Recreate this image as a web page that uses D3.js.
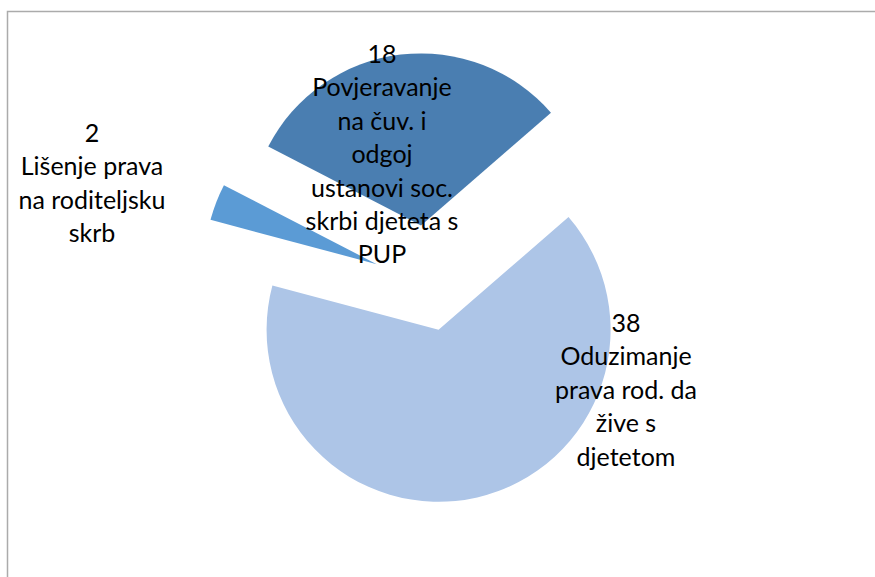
<!DOCTYPE html>
<html>
<head>
<meta charset="utf-8">
<script src="https://cdn.jsdelivr.net/npm/d3@7"></script>
<style>
    html, body { margin: 0; padding: 0; background: #fff; overflow: hidden; }
</style>
</head>
<body>
<div id="chart"></div>
<script>
// ---- data ----
const categories = [
    "Oduzimanje\nprava rod. da\nžive s\ndjetetom",
    "Lišenje prava\nna roditeljsku\nskrb",
    "Povjeravanje\nna čuv. i\nodgoj\nustanovi soc.\nskrbi djeteta s\nPUP"
];
const values = [38, 2, 18];

// ---- styling / layout ----
const colors = ["#adc5e7", "#5b9bd5", "#4a7eb1"];
const explode = [47, 55, 59];            // px each slice is pulled out
const labelPos = [[626, 332], [92, 142], [382, 63]];  // centre x, first baseline
const width = 875, height = 577;
const cx = 428, cy = 284, radius = 172;
const startDeg = 49.07;
const lineH = 33.4;

const svg = d3.select('#chart').append('svg')
    .attr('width', width)
    .attr('height', height)
    .attr('viewBox', `0 0 ${width} ${height}`);

// chart border (runs off the right and bottom edges)
svg.append('rect')
    .attr('x', 7.5).attr('y', 11.5)
    .attr('width', 900).attr('height', 600)
    .attr('fill', 'none')
    .attr('stroke', '#ababab')
    .attr('stroke-width', 1.5);

const data = values.map((v, i) => ({ name: categories[i], value: v }));

const start = startDeg * Math.PI / 180;
const pie = d3.pie().value(d => d.value).sort(null)
    .startAngle(start).endAngle(start + 2 * Math.PI);
const arc = d3.arc().innerRadius(0).outerRadius(radius);

svg.selectAll('path.slice')
    .data(pie(data))
    .join('path')
    .attr('class', 'slice')
    .attr('d', arc)
    .attr('fill', (d, i) => colors[i])
    .attr('transform', (d, i) => {
        const mid = (d.startAngle + d.endAngle) / 2;
        const dx = explode[i] * Math.sin(mid), dy = -explode[i] * Math.cos(mid);
        return `translate(${cx + dx},${cy + dy})`;
    });

// Labels
const labels = svg.selectAll('text.lbl')
    .data(data)
    .join('text')
    .attr('class', 'lbl')
    .attr('x', (d, i) => labelPos[i][0])
    .attr('y', (d, i) => labelPos[i][1])
    .style('text-anchor', 'middle')
    .style('font-family', 'Lato, "Open Sans", sans-serif')
    .style('font-size', '25px')
    .style('fill', '#000');

labels.each(function(d, i) {
    const lines = [String(d.value)].concat(d.name.split('\n'));
    d3.select(this).selectAll('tspan')
        .data(lines)
        .join('tspan')
        .attr('x', labelPos[i][0])
        .attr('dy', (l, j) => j === 0 ? 0 : lineH)
        .text(l => l);
});
</script>
</body>
</html>
